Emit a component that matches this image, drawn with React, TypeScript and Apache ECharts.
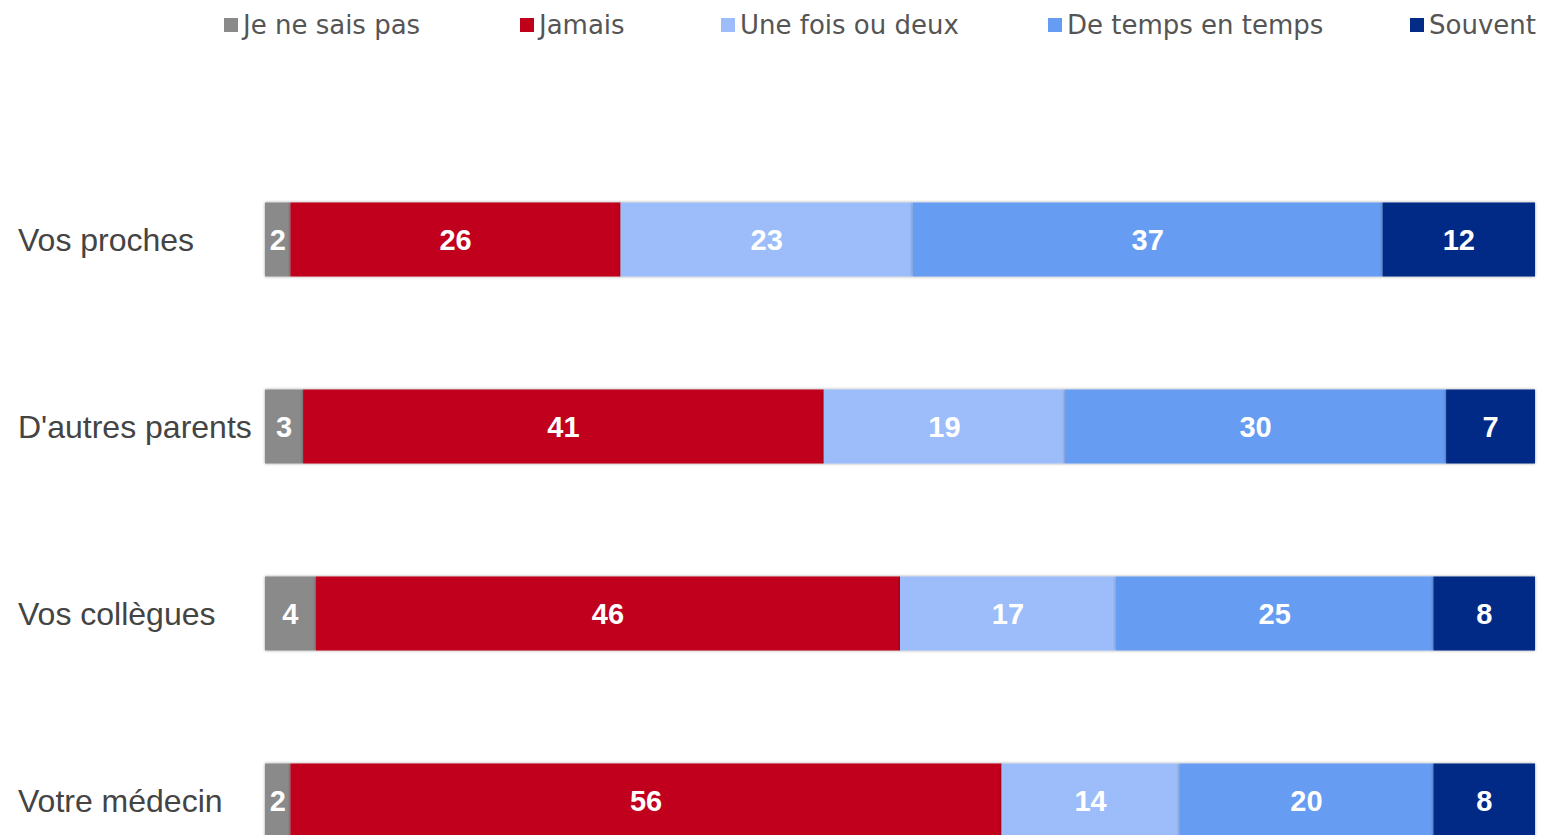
import React, { useEffect, useRef } from "react";
import * as echarts from "echarts";

const categories = ["Vos proches", "D'autres parents", "Vos collègues", "Votre médecin"];
const seriesNames = ["Je ne sais pas", "Jamais", "Une fois ou deux", "De temps en temps", "Souvent"];
const jeNeSaisPas = [2, 3, 4, 2];
const jamais = [26, 41, 46, 56];
const uneFoisOuDeux = [23, 19, 17, 14];
const deTempsEnTemps = [37, 30, 25, 20];
const souvent = [12, 7, 8, 8];
const seriesData = [jeNeSaisPas, jamais, uneFoisOuDeux, deTempsEnTemps, souvent];
const colors = ["#8a8a8a", "#c0001b", "#9cbdf9", "#669cf2", "#042c86"];
const legendLeft = [224, 520, 721, 1048, 1410];

export default function App() {
  const ref = useRef<HTMLDivElement>(null);
  useEffect(() => {
    if (!ref.current) return;
    const chart = echarts.init(ref.current, null, { renderer: "svg" });
    chart.setOption({
      animation: false,
      backgroundColor: "#ffffff",
      legend: seriesNames.map((n, i) => ({
        data: [n],
        left: legendLeft[i],
        top: 12,
        padding: 0,
        itemWidth: 14,
        itemHeight: 14,
        icon: "rect",
        textStyle: { fontFamily: "DejaVu Sans", fontSize: 26, color: "#555555" },
      })),
      grid: { left: 265, right: 10, top: 146, height: 748, containLabel: false },
      xAxis: {
        type: "value",
        min: 0,
        max: 100,
        show: false,
      },
      yAxis: {
        type: "category",
        data: categories,
        inverse: true,
        axisLine: { show: false },
        axisTick: { show: false },
        axisLabel: {
          align: "left",
          margin: 247,
          fontFamily: "Liberation Sans",
          fontSize: 32,
          color: "#444444",
        },
      },
      series: seriesNames.map((n, i) => ({
        name: n,
        type: "bar",
        stack: "total",
        barWidth: 74,
        data: seriesData[i],
        itemStyle: {
          color: colors[i],
          shadowColor: "rgba(0,0,0,0.4)",
          shadowBlur: 3,
          shadowOffsetY: 0,
        },
        label: {
          show: true,
          position: "inside",
          color: "#ffffff",
          fontFamily: "Liberation Sans",
          fontWeight: "bold",
          fontSize: 29,
        },
      })),
    });
    return () => chart.dispose();
  }, []);
  return (
    <div style={{ position: "fixed", left: 0, top: 0, width: 1545, height: 835, overflow: "hidden" }}>
      <div ref={ref} style={{ width: 1545, height: 900 }} />
    </div>
  );
}
